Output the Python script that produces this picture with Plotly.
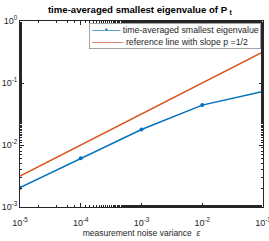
import plotly.graph_objects as go

eps = [1e-5, 1e-4, 1e-3, 1e-2, 1e-1]
avg_min_eig = [0.00205, 0.0061, 0.0178, 0.044, 0.073]
ref_line = [0.00316, 0.01, 0.0316, 0.1, 0.316]

x_tickvals = [1e-5, 1e-4, 1e-3, 1e-2, 1e-1]
x_ticktext = ["10<sup>-5</sup>", "10<sup>-4</sup>", "10<sup>-3</sup>", "10<sup>-2</sup>", "10<sup>-1</sup>"]
y_tickvals = [1e-3, 1e-2, 1e-1, 1e0]
y_ticktext = ["10<sup>-3</sup>", "10<sup>-2</sup>", "10<sup>-1</sup>", "10<sup>0</sup>"]

names = ["time-averaged smallest eigenvalue", "reference line with slope p =1/2"]
colors = ["#0072BD", "#D95319"]

font = "Liberation Sans, Arial, Helvetica, sans-serif"
axcol = "#262626"

fig = go.Figure()
fig.add_trace(go.Scatter(x=eps, y=avg_min_eig, mode="lines+markers", name=names[0],
                         line=dict(color=colors[0], width=1.5),
                         marker=dict(size=4, color=colors[0])))
fig.add_trace(go.Scatter(x=eps, y=ref_line, mode="lines", name=names[1],
                         line=dict(color=colors[1], width=1.5)))

axis_common = dict(type="log", showline=True, linecolor=axcol, linewidth=0.8, mirror="allticks",
                   ticks="inside", ticklen=4, tickcolor=axcol, tickwidth=0.8,
                   showgrid=False, zeroline=False, automargin=False,
                   ticklabeloverflow="allow",
                   tickfont=dict(size=9, color=axcol, family=font),
                   minor=dict(ticks="inside", ticklen=2, tickcolor=axcol, tickwidth=0.6, showgrid=False))

fig.update_xaxes(range=[-5, -1], tickvals=x_tickvals, ticktext=x_ticktext,
                 ticklabelstandoff=7,
                 title=dict(text="measurement noise variance  <i>ε</i>",
                            font=dict(size=8.5, color=axcol, family=font), standoff=2),
                 **axis_common)
fig.update_yaxes(range=[-3, 0], tickvals=y_tickvals, ticktext=y_ticktext,
                 ticklabelstandoff=0, **axis_common)

legend_text = (f"<span style='color:{colors[0]}'>──•──</span> {names[0]}<br>"
               f"<span style='color:{colors[1]}'>─────</span> {names[1]}")
fig.add_annotation(xref="paper", yref="paper", x=0.993, y=0.99, xanchor="right", yanchor="top",
                   text=legend_text, showarrow=False, align="left",
                   font=dict(size=8.8, color=axcol, family=font),
                   bgcolor="white", bordercolor="#8c8c8c", borderwidth=0.8, borderpad=1.5)

fig.update_layout(
    width=269, height=241,
    margin=dict(l=20, r=6, t=21, b=34, autoexpand=False),
    plot_bgcolor="white", paper_bgcolor="white",
    title=dict(text="<b>time-averaged smallest eigenvalue of P <sub>t</sub></b>",
               x=0.52, xanchor="center", y=0.975, yanchor="top",
               font=dict(size=9.6, color="black", family=font)),
    showlegend=False,
)

fig.write_html("out.html", config={"displayModeBar": False},
               post_script="document.body.style.margin='0';document.body.style.padding='0';")
